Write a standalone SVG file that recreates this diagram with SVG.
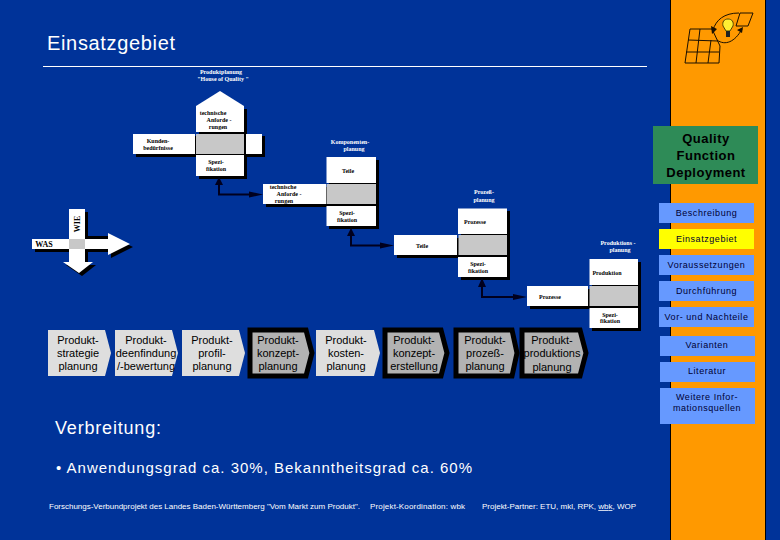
<svg xmlns="http://www.w3.org/2000/svg" width="780" height="540" viewBox="0 0 780 540">
<defs>
<style>
text{font-family:"Liberation Sans",Arial,sans-serif}
.w{fill:#fff}
.s{fill:#000}
.g{fill:#c8c8c8}
.box{fill:#fff}
.sm{font-family:"Liberation Serif","Times New Roman",serif;font-size:6px;font-weight:bold;fill:#000;text-anchor:middle}
.smw{font-family:"Liberation Serif","Times New Roman",serif;font-size:6px;font-weight:bold;fill:#fff;text-anchor:middle}
.ax{font-family:"Liberation Serif","Times New Roman",serif;font-size:8px;font-weight:bold;fill:#000;text-anchor:middle}
.btn{fill:#6699ff}
.bt{font-size:9px;letter-spacing:.55px;fill:#000033;text-anchor:middle}
.ch{font-size:11px;fill:#000;text-anchor:middle}
.lt{fill:#dedede}
.dk{fill:#b2b2b2;stroke:#000;stroke-width:5;stroke-linejoin:miter}
.cn{fill:none;stroke:#00001e;stroke-width:2}
.lg{fill:none;stroke:#1a1000;stroke-width:1}
</style>
</defs>
<rect width="780" height="540" fill="#003399"/>
<rect x="670.5" y="-2" width="95" height="544" fill="#ff9900" stroke="#000" stroke-width="1"/>

<g id="title">
<text x="47" y="50" font-size="20" textLength="128" class="w">Einsatzgebiet</text>
<rect x="43" y="66" width="604" height="1" fill="#fff"/>
</g>

<g id="logo">
<path class="lg" d="M690 29L712 29L720 46L719 63L685 63ZM688 40L718 41M686 52L719 52M700 29L696 63M711 40L708 63M740 13L753 13L748 26L736 26Z"/>
<path class="lg" d="M713 30C716 20 724 13 739 13M717 40C725 46 735 42 742 29"/>
<path d="M712 34l-1-8 6 3ZM743 27l-6 3 5 3Z" fill="#1a1000"/>
<path d="M728 19c4 0 6 3 5 7l-3 5h-4l-3-5c-1-4 1-7 5-7Z" fill="#ffee33" stroke="#554400" stroke-width="1"/>
<rect x="726" y="31" width="4" height="6" fill="#222"/>
</g>

<g id="qfd">
<rect x="653" y="126" width="105" height="58" fill="#2e8b57"/>
<g font-size="13" font-weight="bold" text-anchor="middle" fill="#000" letter-spacing=".5">
<text x="706" y="143">Quality</text>
<text x="706" y="160">Function</text>
<text x="706" y="177">Deployment</text>
</g>
</g>

<g id="nav-beschreibung"><rect class="btn" x="659" y="203" width="95" height="20"/><text class="bt" x="706.5" y="216">Beschreibung</text></g>
<g id="nav-einsatzgebiet"><rect x="659" y="229" width="95" height="20" fill="#ffff00"/><text class="bt" x="706.5" y="242">Einsatzgebiet</text></g>
<g id="nav-voraussetzungen"><rect class="btn" x="659" y="255" width="95" height="20"/><text class="bt" x="706.5" y="268">Voraussetzungen</text></g>
<g id="nav-durchfuehrung"><rect class="btn" x="659" y="281" width="95" height="20"/><text class="bt" x="706.5" y="294">Durchführung</text></g>
<g id="nav-vornachteile"><rect class="btn" x="659" y="307" width="95" height="20"/><text class="bt" x="706.5" y="320">Vor- und Nachteile</text></g>
<g id="nav-varianten"><rect class="btn" x="660" y="336" width="95" height="20"/><text class="bt" x="707" y="348">Varianten</text></g>
<g id="nav-literatur"><rect class="btn" x="660" y="362" width="95" height="20"/><text class="bt" x="707" y="374">Literatur</text></g>
<g id="nav-weitere"><rect class="btn" x="660" y="388" width="95" height="36"/><text class="bt" x="707" y="400">Weitere Infor-</text><text class="bt" x="707" y="411">mationsquellen</text></g>

<g id="hoq1">
<path class="s" d="M136 136H199V109H247V136H265V157H247V179H199V157H136Z"/>
<path class="w" d="M196 106L220 91L244 106Z"/>
<rect class="box" x="196" y="106" width="48" height="26"/>
<rect class="box" x="133" y="134" width="62" height="20"/>
<rect class="g" x="196" y="134" width="48" height="20"/>
<rect class="box" x="246" y="134" width="16" height="20"/>
<rect class="box" x="196" y="155" width="48" height="21"/>
<text class="smw" x="221" y="74">Produktplanung</text>
<text class="smw" x="223" y="81">"House of Quality "</text>
<text class="sm" x="213" y="115">technische</text>
<text class="sm" x="219" y="122">Anforde -</text>
<text class="sm" x="218" y="129">rungen</text>
<text class="sm" x="158" y="143">Kunden-</text>
<text class="sm" x="158" y="150">bedürfnisse</text>
<text class="sm" x="216" y="164">Spezi-</text>
<text class="sm" x="216" y="171">fikation</text>
</g>

<g id="hoq2">
<path class="s" d="M266 187H329V160H379V229H329V207H266Z"/>
<rect class="box" x="263" y="184" width="63" height="20"/>
<rect class="box" x="326.500" y="157" width="49.500" height="26"/>
<rect class="g" x="326.500" y="184" width="49.500" height="20"/>
<rect class="box" x="326.500" y="206" width="49.500" height="20"/>
<text class="smw" x="350" y="144">Komponenten-</text>
<text class="smw" x="354" y="151">planung</text>
<text class="sm" x="348" y="173">Teile</text>
<text class="sm" x="283" y="189">technische</text>
<text class="sm" x="289" y="196">Anforde -</text>
<text class="sm" x="284" y="203">rungen</text>
<text class="sm" x="347" y="215">Spezi-</text>
<text class="sm" x="347" y="222">fikation</text>
</g>

<g id="hoq3">
<path class="s" d="M397 238H461V211H510V280H461V258H397Z"/>
<rect class="box" x="394" y="235" width="63" height="20"/>
<rect class="box" x="458" y="208.500" width="49" height="25.500"/>
<rect class="g" x="458.500" y="235" width="48.500" height="20"/>
<rect class="box" x="458" y="257" width="49" height="20"/>
<text class="smw" x="484" y="194">Prozeß-</text>
<text class="smw" x="484" y="202">planung</text>
<text class="sm" x="475" y="224">Prozesse</text>
<text class="sm" x="422" y="248">Teile</text>
<text class="sm" x="478" y="266">Spezi-</text>
<text class="sm" x="478" y="273">fikation</text>
</g>

<g id="hoq4">
<path class="s" d="M530 289H592V262H641V331H592V309H530Z"/>
<rect class="box" x="527" y="286" width="61" height="20"/>
<rect class="box" x="589.500" y="259" width="48.500" height="26"/>
<rect class="g" x="589.500" y="286" width="48.500" height="20"/>
<rect class="box" x="589.500" y="308" width="48.500" height="20"/>
<text class="smw" x="618" y="245">Produktions -</text>
<text class="smw" x="620" y="252">planung</text>
<text class="sm" x="607" y="275">Produktion</text>
<text class="sm" x="550" y="299">Prozesse</text>
<text class="sm" x="610" y="317">Spezi-</text>
<text class="sm" x="610" y="323">fikation</text>
</g>

<g id="cross">
<path class="s" d="M72 212H88V236H111L133 247L111 258V252H88V265H96L82 276L66 265H72V252H35V242H72Z"/>
<rect class="box" x="32" y="239" width="37" height="10"/>
<rect class="box" x="69" y="209" width="16" height="30"/>
<rect class="g" x="69" y="239" width="16" height="10"/>
<path class="w" d="M85 239H108V233L130 244L108 255V249H85Z"/>
<path class="w" d="M69 249H85V262H93L79 273L63 262H69Z"/>
<text class="ax" x="44" y="246.500">WAS</text>
<text class="ax" transform="translate(80 224) rotate(-90)">WIE</text>
</g>

<g id="connectors">
<path class="cn" d="M219 185V194.500H253"/>
<path class="cn" d="M351 236V245.500H384"/>
<path class="cn" d="M482 287V297H517"/>
<path d="M219 177l-4 8h8ZM263 194.500l-14-3v6ZM351 228l-4 8h8ZM394 245.500l-14-3v6ZM482 278l-4 9h8ZM527 297l-14-3v6Z" fill="#00001e"/>
</g>

<g id="step1"><path class="lt" d="M48 330H105L111 353L105 376H48Z"/><text class="ch" x="78" y="344">Produkt-</text><text class="ch" x="78" y="357">strategie</text><text class="ch" x="78" y="370">planung</text></g>
<g id="step2"><path class="lt" d="M115 330H172L178 353L172 376H115Z"/><text class="ch" x="146" y="344">Produkt-</text><text class="ch" x="146" y="357">deenfindung</text><text class="ch" x="146" y="370">/-bewertung</text></g>
<g id="step3"><path class="lt" d="M182 330H239L245 353L239 376H182Z"/><text class="ch" x="212" y="344">Produkt-</text><text class="ch" x="212" y="357">profil-</text><text class="ch" x="212" y="370">planung</text></g>
<g id="step4"><path class="dk" d="M250 330H306L312 353L306 376H250Z"/><text class="ch" x="278" y="344">Produkt-</text><text class="ch" x="278" y="357">konzept-</text><text class="ch" x="278" y="370">planung</text></g>
<g id="step5"><path class="lt" d="M316 330H374L380 353L374 376H316Z"/><text class="ch" x="346" y="344">Produkt-</text><text class="ch" x="346" y="357">kosten-</text><text class="ch" x="346" y="370">planung</text></g>
<g id="step6"><path class="dk" d="M385 330H441L447 353L441 376H385Z"/><text class="ch" x="414" y="344">Produkt-</text><text class="ch" x="414" y="357">konzept-</text><text class="ch" x="414" y="370">erstellung</text></g>
<g id="step7"><path class="dk" d="M456 330H512L517 353L512 376H456Z"/><text class="ch" x="485" y="344">Produkt-</text><text class="ch" x="485" y="357">prozeß-</text><text class="ch" x="485" y="370">planung</text></g>
<g id="step8"><path class="dk" d="M522 330H580L586 353L580 376H522Z"/><text class="ch" x="552" y="344">Produkt-</text><text class="ch" x="552" y="357">produktions</text><text class="ch" x="552" y="371">planung</text></g>

<g id="body">
<text x="55" y="434" font-size="18" textLength="106" fill="#fff">Verbreitung:</text>
<text x="56" y="473" font-size="15" textLength="416" fill="#fff">• Anwendungsgrad ca. 30%, Bekanntheitsgrad ca. 60%</text>
<g font-size="8" fill="#fff">
<text x="49" y="509" textLength="311">Forschungs-Verbundprojekt des Landes Baden-Württemberg "Vom Markt zum Produkt".</text>
<text x="370" y="509" textLength="95">Projekt-Koordination:  wbk</text>
<text x="482" y="509" textLength="154">Projekt-Partner: ETU, mkl, RPK, <tspan text-decoration="underline">wbk</tspan>, WOP</text>
</g>
</g>
</svg>
